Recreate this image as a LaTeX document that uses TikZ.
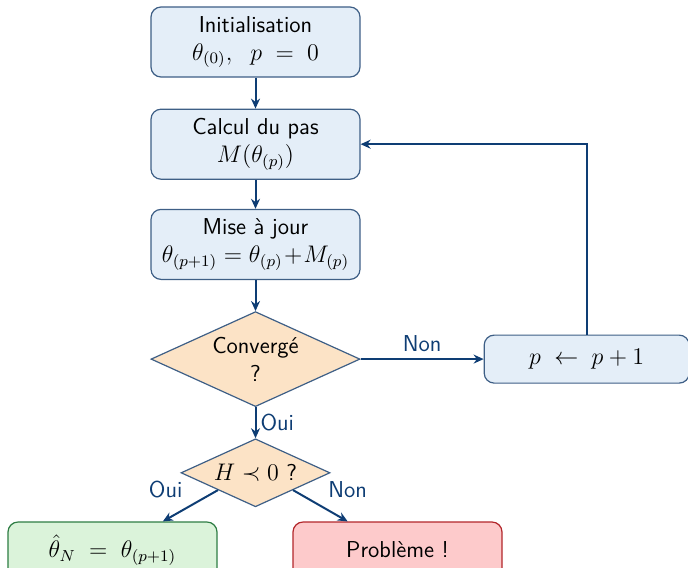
\documentclass[tikz,border=0pt]{standalone}
\usepackage{amsmath}
\usepackage{amssymb}
\usetikzlibrary{arrows.meta,positioning,shapes.geometric}
\definecolor{fondbleu}{HTML}{E4EEF8}
\definecolor{bordbleu}{HTML}{3E5F86}
\definecolor{fondorange}{HTML}{FCE3C6}
\definecolor{fondvert}{HTML}{DBF3DA}
\definecolor{bordvert}{HTML}{2E7D44}
\definecolor{fondrouge}{HTML}{FDCACB}
\definecolor{bordrouge}{HTML}{B2262B}
\definecolor{fleche}{HTML}{0E3D74}

\begin{document}
\begin{tikzpicture}[->,>={Stealth[length=5pt,width=4.5pt]},node distance=15.5pt,
  font=\sffamily\fontsize{11.5pt}{14pt}\selectfont,
  bloc/.style={draw=bordbleu,fill=fondbleu,rounded corners=5pt,line width=0.6pt,
    minimum width=104.5pt,minimum height=35pt,align=center,inner sep=2pt},
  test/.style={diamond,draw=bordbleu,fill=fondorange,line width=0.6pt,
    aspect=2.2,inner sep=0pt,align=center},
  fin/.style={bloc,minimum height=24pt},
  lien/.style={draw=fleche,line width=1pt},
  rep/.style={text=fleche}]

\useasboundingbox(-127.75pt,21pt)rectangle(216.25pt,-262.5pt);

\node[bloc](init){Initialisation\\$\theta_{(0)},\;\ p\;=\;0$};
\node[bloc](calc)[below=of init]{Calcul du pas\\$M(\theta_{(p)})$};
\node[bloc](maj)[below=14.5pt of calc]{Mise à jour\\$\theta_{(p+1)}=\theta_{(p)}\!+\!M_{(p)}$};
\node[test,minimum width=104.5pt,minimum height=47.5pt](conv)[below=15.5pt of maj]{Convergé\\?};
\node[fin,minimum width=102.5pt](incr)[right=61.5pt of conv]{$p\;\leftarrow\;p+1$};
\node[test,minimum width=74.5pt,minimum height=34pt](hess)[below=15.5pt of conv]{$H\prec 0$ ?};
\node[fin,minimum height=28pt,draw=bordvert,fill=fondvert](sol)[below=7pt of hess,xshift=-71.5pt]{$\hat{\theta}_N\;=\;\theta_{(p+1)}$};
\node[fin,minimum height=28pt,draw=bordrouge,fill=fondrouge](pb)[below=7pt of hess,xshift=71pt]{Problème !};

\path(init)edge[lien](calc)
(calc)edge[lien](maj)
(maj)edge[lien](conv)
(conv)edge[lien]node[rep,above]{Non}(incr)
(conv)edge[lien]node[rep,right,inner sep=2pt]{Oui}(hess)
(hess.south west)edge[lien]node[rep,above left,inner sep=3.5pt]{Oui}(sol)
(hess.south east)edge[lien]node[rep,above right,inner sep=3.5pt]{Non}(pb);
\draw[lien](incr.north)|-(calc.east);

\end{tikzpicture}
\end{document}
